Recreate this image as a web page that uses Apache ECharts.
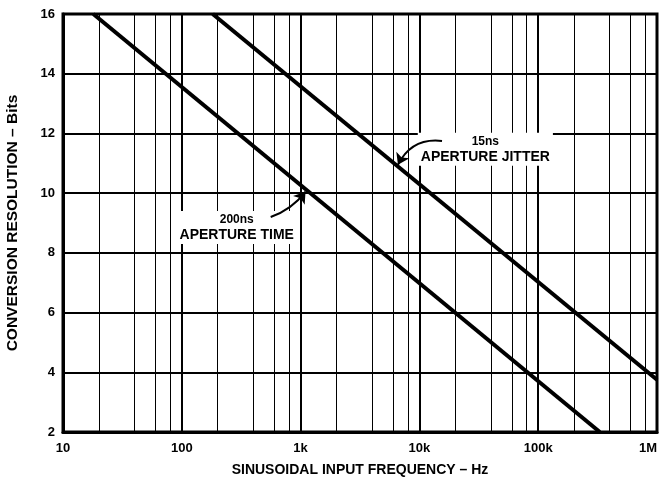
<!DOCTYPE html>
<html>
<head>
<meta charset="utf-8">
<script src="https://cdn.jsdelivr.net/npm/echarts@6/dist/echarts.min.js"></script>
<style>
  html, body { margin: 0; padding: 0; background: #fff; }
  #chart { width: 663px; height: 480px; }
</style>
</head>
<body>
<div id="chart"></div>
<script>
// values
const apertureTime = [[18, 16], [330000, 2]]
const apertureJitter = [[182, 16], [1000000, 3.75]]
const minorFreqs = [
  20, 40, 60, 80,
  200, 400, 600, 800,
  2000, 4000, 6000, 8000,
  20000, 40000, 60000, 80000,
  200000, 400000, 600000, 800000
]
const xTickLabels = { 10: '10', 100: '100', 1000: '1k', 10000: '10k', 100000: '100k', 1000000: '1M' }
const jitterNote = { text: ['15ns', 'APERTURE JITTER'], at: [35900, 11.47], arrowFrom: [15500, 11.75], arrowTo: [6600, 10.95] }
const timeNote = { text: ['200ns', 'APERTURE TIME'], at: [290, 8.85], arrowFrom: [560, 9.2], arrowTo: [1100, 10.05] }

const font = 'Liberation Sans, Arial, Helvetica, sans-serif'

function noteLabel(note) {
  return {
    coord: note.at,
    symbol: 'circle',
    symbolSize: 1,
    itemStyle: { color: 'rgba(0,0,0,0)' },
    label: {
      show: true,
      position: 'inside',
      formatter: '{a|' + note.text[0] + '}\n{b|' + note.text[1] + '}',
      backgroundColor: '#fff',
      padding: [1, 3],
      rich: {
        a: { fontFamily: font, fontWeight: 'bold', fontSize: 12, color: '#000', lineHeight: 15, align: 'center' },
        b: { fontFamily: font, fontWeight: 'bold', fontSize: 14, color: '#000', lineHeight: 16, align: 'center' }
      }
    }
  }
}

const chart = echarts.init(document.getElementById('chart'))
chart.setOption({
  animation: false,
  backgroundColor: '#fff',
  grid: {
    left: 63,
    right: 6,
    top: 14,
    bottom: 48,
    outerBoundsMode: 'none',
    show: true,
    borderColor: '#000',
    borderWidth: 3
  },
  xAxis: {
    type: 'log',
    logBase: 10,
    min: 10,
    max: 1000000,
    name: 'SINUSOIDAL INPUT FREQUENCY – Hz',
    nameLocation: 'middle',
    nameGap: 31,
    nameTextStyle: { fontFamily: font, fontWeight: 'bold', fontSize: 14, color: '#000' },
    axisLine: { show: true, lineStyle: { color: '#000', width: 3 } },
    axisTick: { show: false },
    axisLabel: {
      fontFamily: font,
      fontWeight: 'bold',
      fontSize: 13,
      color: '#000',
      margin: 10,
      alignMaxLabel: 'right',
      formatter: v => xTickLabels[Math.round(v)] || ''
    },
    splitLine: { show: true, lineStyle: { color: '#000', width: 2 } }
  },
  yAxis: {
    type: 'value',
    min: 2,
    max: 16,
    interval: 2,
    name: 'CONVERSION RESOLUTION – Bits',
    nameLocation: 'middle',
    nameGap: 42,
    nameTextStyle: { fontFamily: font, fontWeight: 'bold', fontSize: 15.5, color: '#000' },
    axisLine: { show: true, lineStyle: { color: '#000', width: 3 } },
    axisTick: { show: false },
    axisLabel: { fontFamily: font, fontWeight: 'bold', fontSize: 13, color: '#000', margin: 8 },
    splitLine: { show: true, lineStyle: { color: '#000', width: 2 } }
  },
  series: [
    {
      name: '200ns aperture time',
      type: 'line',
      data: apertureTime,
      symbol: 'none',
      lineStyle: { color: '#000', width: 4 },
      z: 5,
      markLine: {
        silent: true,
        symbol: 'none',
        label: { show: false },
        lineStyle: { color: '#000', width: 1, type: 'solid' },
        z: 1,
        data: minorFreqs.map(v => ({ xAxis: v }))
      }
    },
    {
      name: '15ns aperture jitter',
      type: 'line',
      data: apertureJitter,
      symbol: 'none',
      lineStyle: { color: '#000', width: 4 },
      z: 5,
      markPoint: {
        silent: true,
        z: 3,
        data: [noteLabel(jitterNote), noteLabel(timeNote)]
      }
    },
    {
      // curved callout arrows
      name: 'arrows',
      type: 'lines',
      coordinateSystem: 'cartesian2d',
      silent: true,
      z: 8,
      symbol: ['none', 'arrow'],
      symbolSize: 11,
      lineStyle: { color: '#000', width: 2, opacity: 1 },
      data: [
        { coords: [jitterNote.arrowFrom, jitterNote.arrowTo], lineStyle: { curveness: -0.35 } },
        { coords: [timeNote.arrowFrom, timeNote.arrowTo], lineStyle: { curveness: -0.15 } }
      ]
    }
  ]
})
</script>
</body>
</html>
